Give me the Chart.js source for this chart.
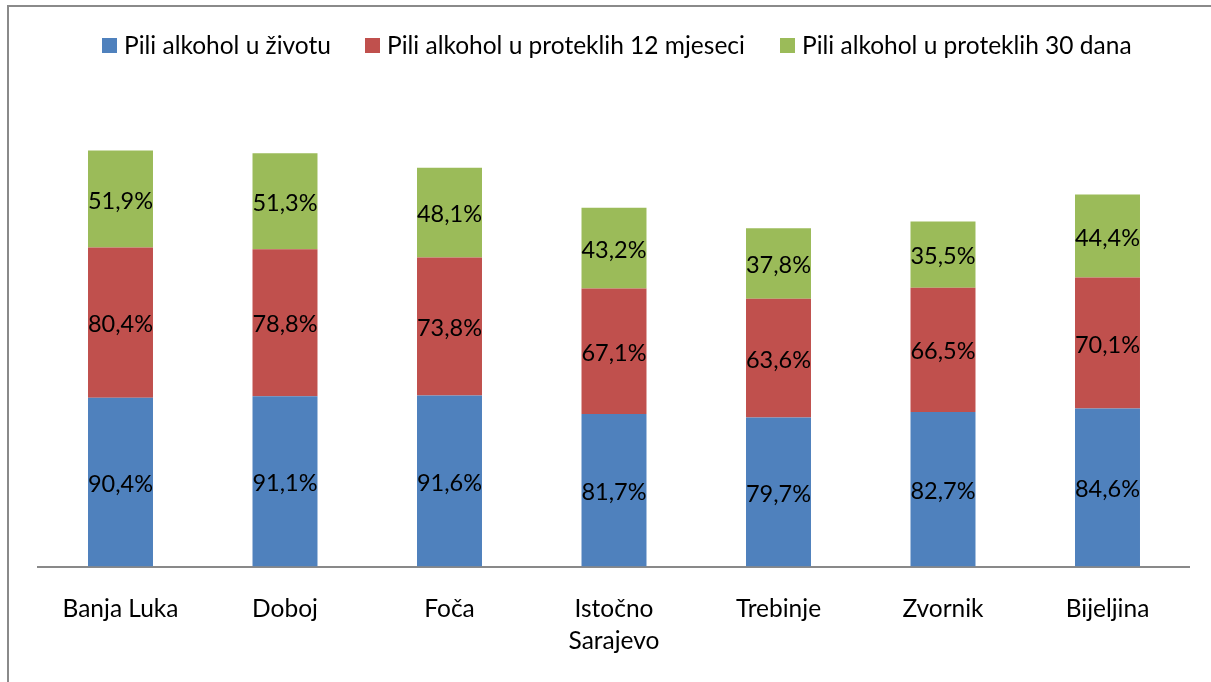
<!DOCTYPE html>
<html>
<head>
<meta charset="utf-8">
<script src="https://cdn.jsdelivr.net/npm/chart.js@4"></script>
<style>
  html, body { margin: 0; padding: 0; background: #fff; }
  #wrap { position: relative; width: 1211px; height: 682px; overflow: hidden; font-family: Lato, sans-serif; }
  #frame { position: absolute; left: 7px; top: 5px; width: 1400px; height: 900px; border-left: 2px solid #8a8a8a; border-top: 2px solid #8a8a8a; }
  canvas { position: absolute; left: 0; top: 0; }
  .leg { position: absolute; top: 30px; height: 30px; line-height: 30px; font-size: 24.5px; color: #000; white-space: nowrap; }
  .leg i { position: absolute; left: 0; top: 8px; width: 15px; height: 15px; }
  .leg span { position: absolute; left: 22px; top: 0; }
</style>
</head>
<body>
<div id="wrap">
  <div id="frame"></div>
  <canvas id="chart" width="1211" height="682"></canvas>
  <div id="legend"></div>
</div>
<script>
// podaci
var categories = ['Banja Luka', 'Doboj', 'Foča', ['Istočno', 'Sarajevo'], 'Trebinje', 'Zvornik', 'Bijeljina'];
var seriesNames = ['Pili alkohol u životu', 'Pili alkohol u proteklih 12 mjeseci', 'Pili alkohol u proteklih 30 dana'];
var zivot = [90.4, 91.1, 91.6, 81.7, 79.7, 82.7, 84.6];
var mjeseci12 = [80.4, 78.8, 73.8, 67.1, 63.6, 66.5, 70.1];
var dana30 = [51.9, 51.3, 48.1, 43.2, 37.8, 35.5, 44.4];
var colors = ['#4F81BD', '#C0504D', '#9BBB59'];

var FONT = 'Lato, sans-serif';

// legenda (html)
var legendX = [102, 365, 780];
var legendEl = document.getElementById('legend');
seriesNames.forEach(function(name, i) {
    var d = document.createElement('div');
    d.className = 'leg';
    d.style.left = legendX[i] + 'px';
    d.innerHTML = '<i style="background:' + colors[i] + '"></i><span>' + name + '</span>';
    legendEl.appendChild(d);
});

// natpisi u sredini segmenata
var valueLabels = {
    id: 'valueLabels',
    afterDatasetsDraw: function(chart) {
        var ctx = chart.ctx;
        ctx.save();
        ctx.font = '23.5px ' + FONT;
        ctx.fillStyle = '#000';
        ctx.textAlign = 'center';
        ctx.textBaseline = 'middle';
        chart.data.datasets.forEach(function(ds, di) {
            var meta = chart.getDatasetMeta(di);
            meta.data.forEach(function(bar, i) {
                var y = (bar.y + bar.base) / 2 + 2;
                ctx.fillText(ds.data[i].toFixed(1).replace('.', ',') + '%', bar.x, y);
            });
        });
        ctx.restore();
    }
};

var datasets = [zivot, mjeseci12, dana30].map(function(vals, i) {
    return {
        label: seriesNames[i],
        data: vals,
        backgroundColor: colors[i],
        borderWidth: 0,
        categoryPercentage: 1,
        barPercentage: 0.395
    };
});

new Chart(document.getElementById('chart'), {
    type: 'bar',
    data: { labels: categories, datasets: datasets },
    options: {
        responsive: false,
        animation: false,
        layout: { padding: { left: 38.25, right: 21.25, top: 99.5, bottom: 0 } },
        plugins: { legend: { display: false }, tooltip: { enabled: false } },
        scales: {
            x: {
                stacked: true,
                grid: { display: false, drawTicks: false },
                border: { display: true, color: '#898989', width: 2 },
                ticks: {
                    color: '#000',
                    padding: 26,
                    maxRotation: 0,
                    autoSkip: false,
                    font: { family: FONT, size: 24.5, lineHeight: 1.33 }
                },
                afterFit: function(scale) { scale.height = 115.5; }
            },
            y: {
                stacked: true,
                display: false,
                min: 0,
                max: 250
            }
        }
    },
    plugins: [valueLabels]
});
</script>
</body>
</html>
